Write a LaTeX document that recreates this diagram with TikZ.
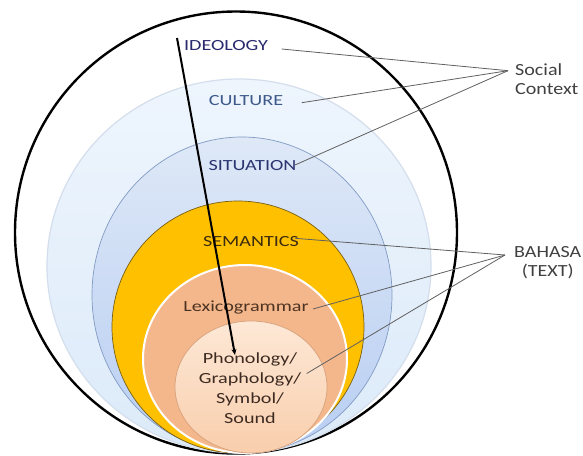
\documentclass[tikz,border=0pt]{standalone}
\usepackage{fontspec}
\setmainfont{Carlito}[FakeStretch=1.3]
\newfontfamily\sidefont{Carlito}[FakeStretch=1.18]
\usetikzlibrary{arrows.meta}
\definecolor{ideoC}{RGB}{42,42,110}
\definecolor{cultC}{RGB}{61,90,138}
\definecolor{situC}{RGB}{42,53,112}
\definecolor{semC}{RGB}{59,43,15}
\definecolor{lexC}{RGB}{77,51,34}
\definecolor{phonC}{RGB}{61,43,34}
\definecolor{sideC}{RGB}{64,64,64}
\definecolor{connC}{RGB}{96,96,96}
\definecolor{cultTop}{RGB}{238,245,253}
\definecolor{cultBot}{RGB}{220,234,249}
\definecolor{cultEdge}{RGB}{212,222,236}
\definecolor{situTop}{RGB}{222,232,247}
\definecolor{situBot}{RGB}{184,206,242}
\definecolor{situEdge}{RGB}{130,155,195}
\definecolor{semFill}{RGB}{255,192,0}
\definecolor{semEdge}{RGB}{120,95,20}
\definecolor{lexFill}{RGB}{244,183,140}
\definecolor{phonTop}{RGB}{253,232,214}
\definecolor{phonBot}{RGB}{249,206,172}
\definecolor{phonEdge}{RGB}{214,160,122}
\tikzset{
  lbl/.style={font=\fontsize{15.5}{20}\selectfont, inner sep=0pt, anchor=center},
  side/.style={font=\sidefont\fontsize{17}{19}\selectfont, inner sep=0pt, text=sideC},
  conn/.style={draw=connC, line width=0.8pt},
}
\begin{document}
\begin{tikzpicture}[x=1pt,y=-1pt]
\useasboundingbox (0,0) rectangle (583,455);
% rings
\draw[line width=2.4pt, fill=white] (236,232.5) ellipse [x radius=221, y radius=221];
\draw[cultEdge, line width=1.2pt, top color=cultTop, bottom color=cultBot] (239,266) ellipse [x radius=192, y radius=187];
\draw[situEdge, line width=0.7pt, top color=situTop, bottom color=situBot] (242,295) ellipse [x radius=150, y radius=158];
\draw[semEdge, line width=0.7pt, fill=semFill] (238,327) ellipse [x radius=126, y radius=126];
\draw[white, line width=2pt, fill=lexFill] (245,359) ellipse [x radius=102, y radius=94];
\draw[phonEdge, line width=0.7pt, top color=phonTop, bottom color=phonBot] (251,387) ellipse [x radius=76, y radius=66];
% labels
\node[lbl, text=ideoC] (ideo) at (226,46) {IDEOLOGY};
\node[lbl, text=cultC] (cult) at (246,101) {CULTURE};
\node[lbl, text=situC] (situ) at (252.5,166) {SITUATION};
\node[lbl, text=semC] (sem) at (251,242) {SEMANTICS};
\node[lbl, text=lexC] (lex) at (246,307) {Lexicogrammar};
\node[lbl, text=phonC, align=center] (phon) at (250,388) {Phonology/\\Graphology/\\Symbol/\\Sound};
\node[side, align=left, anchor=west] (social) at (515,79) {Social\\Context};
\node[side, align=center, anchor=west] (bahasa) at (514,263) {BAHASA\\(TEXT)};
% connector ends
\coordinate (scj) at (508,70.7);
\coordinate (bhj) at (505,255);
\coordinate (ideoE) at (281.7,49);
\coordinate (cultE) at (301.7,102.7);
\coordinate (situE) at (295,165);
\coordinate (semE) at (295,238.3);
\coordinate (lexE) at (313,309);
\coordinate (phonE) at (306.7,373.5);
\draw[conn] (ideoE) -- (scj);
\draw[conn] (cultE) -- (scj);
\draw[conn] (situE) -- (scj);
\draw[conn] (semE) -- (bhj);
\draw[conn] (lexE) -- (bhj);
\draw[conn] (phonE) -- (bhj);
% black line
\coordinate (lineTop) at (177,38);
\coordinate (lineEnd) at (235,355);
\draw[line width=2pt, -{Stealth[length=6pt,width=5pt]}] (lineTop) -- (lineEnd);
\end{tikzpicture}
\end{document}
